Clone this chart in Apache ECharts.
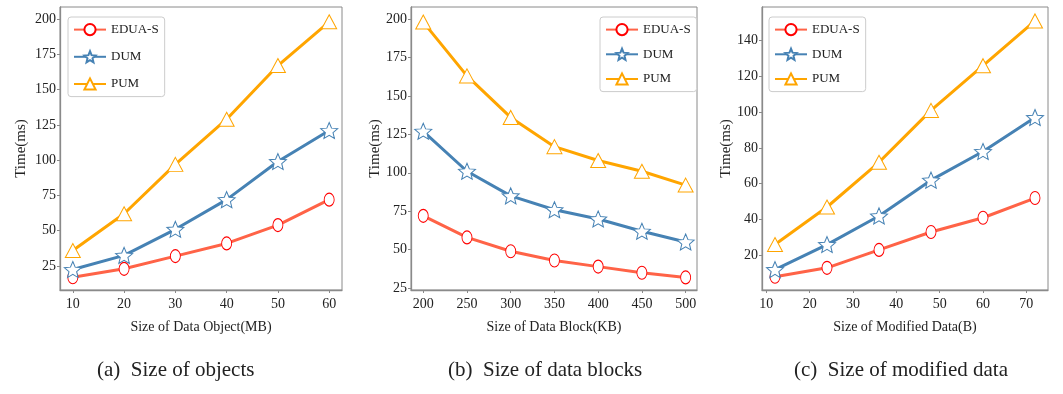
<!DOCTYPE html>
<html><head><meta charset="utf-8">
<script src="https://cdn.jsdelivr.net/npm/echarts@6/dist/echarts.min.js"></script>
<style>html,body{margin:0;padding:0;background:#fff}#c{width:1063px;height:394px}</style>
</head><body><div id="c"></div>
<script>
// ---- data ----
const seriesNames = ['EDUA-S', 'DUM', 'PUM'];

const xObjects = [10, 20, 30, 40, 50, 60];
const objEDUA = [17, 23, 32, 41, 54, 72];
const objDUM  = [22.5, 32.5, 51, 72, 99, 121];
const objPUM  = [36, 62, 97, 129, 167, 198];

const xBlocks = [200, 250, 300, 350, 400, 450, 500];
const blkEDUA = [72, 58, 49, 43, 39, 35, 32];
const blkDUM  = [127, 101, 85, 76, 70, 62, 55];
const blkPUM  = [198, 163, 136, 117, 108, 101, 92];

const xModified = [12, 24, 36, 48, 60, 72];
const modEDUA = [8, 13, 23, 33, 41, 52];
const modDUM  = [12, 26, 42, 62, 78, 97];
const modPUM  = [26, 47, 72, 101, 126, 151];

const xTicksA = [10, 20, 30, 40, 50, 60];
const xTicksB = [200, 250, 300, 350, 400, 450, 500];
const xTicksC = [10, 20, 30, 40, 50, 60, 70];
const yTicksA = [25, 50, 75, 100, 125, 150, 175, 200];
const yTicksB = [25, 50, 75, 100, 125, 150, 175, 200];
const yTicksC = [20, 40, 60, 80, 100, 120, 140];

const xNames = ['Size of Data Object(MB)', 'Size of Data Block(KB)', 'Size of Modified Data(B)'];
const yName = 'Time(ms)';
const captions = ['(a)  Size of objects', '(b)  Size of data blocks', '(c)  Size of modified data'];

// ---- styling / layout ----
const FONT = '"Liberation Serif", "Times New Roman", serif';
const TXT = '#222';
const FRAME = '#8a8a8a';
const lineColors = ['#ff6347', '#4682b4', '#ffa500'];
const edgeColors = ['#ff0000', '#4682b4', '#ffa500'];
const ellipse = 'path://M0,-1A1,1,0,1,1,0,1A1,1,0,1,1,0,-1Z';
const star = 'path://M0,-1L0.265,-0.364L0.951,-0.309L0.428,0.139L0.588,0.809L0,0.45L-0.588,0.809L-0.428,0.139L-0.951,-0.309L-0.265,-0.364Z';
const symbols = [ellipse, star, 'triangle'];
const symbolSizes = [[10, 13], [17, 16], [15, 14]];

const panels = [
  { x: xObjects, ys: [objEDUA, objDUM, objPUM], xt: xTicksA, yt: yTicksA,
    grid: { left: 60, top: 7, width: 282, height: 283 }, xr: [7.5, 62.5], yr: [8, 208.5],
    yGap: 31, legend: { left: 68, top: 17, itemGap: 14 }, cap: 177 },
  { x: xBlocks, ys: [blkEDUA, blkDUM, blkPUM], xt: xTicksB, yt: yTicksB,
    grid: { left: 411, top: 7, width: 286, height: 283 }, xr: [186, 513], yr: [23.8, 207.8],
    yGap: 27, legend: { left: 600, top: 17, itemGap: 11.5 }, cap: 528 },
  { x: xModified, ys: [modEDUA, modDUM, modPUM], xt: xTicksC, yt: yTicksC,
    grid: { left: 762, top: 7, width: 286, height: 283 }, xr: [9, 75], yr: [0.6, 158.8],
    yGap: 27, legend: { left: 769, top: 17, itemGap: 11.5 }, cap: 874 }
];

const grids = [], xAxes = [], yAxes = [], series = [], legends = [], graphics = [];
panels.forEach((p, i) => {
  grids.push(Object.assign({ show: true, borderColor: FRAME, borderWidth: 1, backgroundColor: '#fff', containLabel: false }, p.grid));
  const xi = p.xt[1] - p.xt[0], yi = p.yt[1] - p.yt[0];
  xAxes.push({
    type: 'value', gridIndex: i, min: p.xr[0], max: p.xr[1],
    minInterval: xi, maxInterval: xi, splitNumber: p.xt.length,
    splitLine: { show: false },
    axisLine: { show: true, lineStyle: { color: FRAME, width: 1.3 } },
    axisTick: { show: true, length: 3, lineStyle: { color: FRAME } },
    axisLabel: { showMinLabel: false, showMaxLabel: false, margin: 7, color: TXT, fontFamily: FONT, fontSize: 14,
      formatter: v => (p.xt.indexOf(v) >= 0 ? String(v) : '') },
    name: xNames[i], nameLocation: 'middle', nameGap: 30,
    nameTextStyle: { color: TXT, fontFamily: FONT, fontSize: 14 }
  });
  yAxes.push({
    type: 'value', gridIndex: i, min: p.yr[0], max: p.yr[1],
    minInterval: yi, maxInterval: yi, splitNumber: p.yt.length,
    splitLine: { show: false },
    axisLine: { show: true, lineStyle: { color: FRAME, width: 1.3 } },
    axisTick: { show: true, length: 3, lineStyle: { color: FRAME } },
    axisLabel: { showMinLabel: false, showMaxLabel: false, margin: 4, color: TXT, fontFamily: FONT, fontSize: 14,
      formatter: v => (p.yt.indexOf(v) >= 0 ? String(v) : '') },
    name: yName, nameLocation: 'middle', nameGap: p.yGap, nameRotate: 90,
    nameTextStyle: { color: TXT, fontFamily: FONT, fontSize: 15 }
  });
  p.ys.forEach((vals, k) => {
    series.push({
      type: 'line', name: seriesNames[k], xAxisIndex: i, yAxisIndex: i,
      data: p.x.map((xv, j) => [xv, vals[j]]),
      symbol: symbols[k], symbolSize: symbolSizes[k], showAllSymbol: true,
      lineStyle: { color: lineColors[k], width: 3 },
      itemStyle: { color: '#fff', borderColor: edgeColors[k], borderWidth: 1 },
      emphasis: { disabled: true }, animation: false, z: 2 + k
    });
  });
  legends.push(Object.assign({
    orient: 'vertical', data: seriesNames.slice(), itemWidth: 32, itemHeight: 14,
    padding: [6, 6, 6, 5], borderColor: '#cccccc', borderWidth: 1, borderRadius: 3, backgroundColor: '#fff',
    textStyle: { color: TXT, fontFamily: FONT, fontSize: 13 }, selectedMode: false
  }, p.legend));
  graphics.push({
    type: 'text', left: p.cap - 80, top: 360,
    style: { text: captions[i], fontFamily: FONT, fontSize: 21, fill: TXT }
  });
});

const chart = echarts.init(document.getElementById('c'), null, { renderer: 'canvas' });
chart.setOption({
  animation: false,
  backgroundColor: '#fff',
  grid: grids, xAxis: xAxes, yAxis: yAxes, series: series, legend: legends,
  graphic: graphics
});
</script></body></html>
